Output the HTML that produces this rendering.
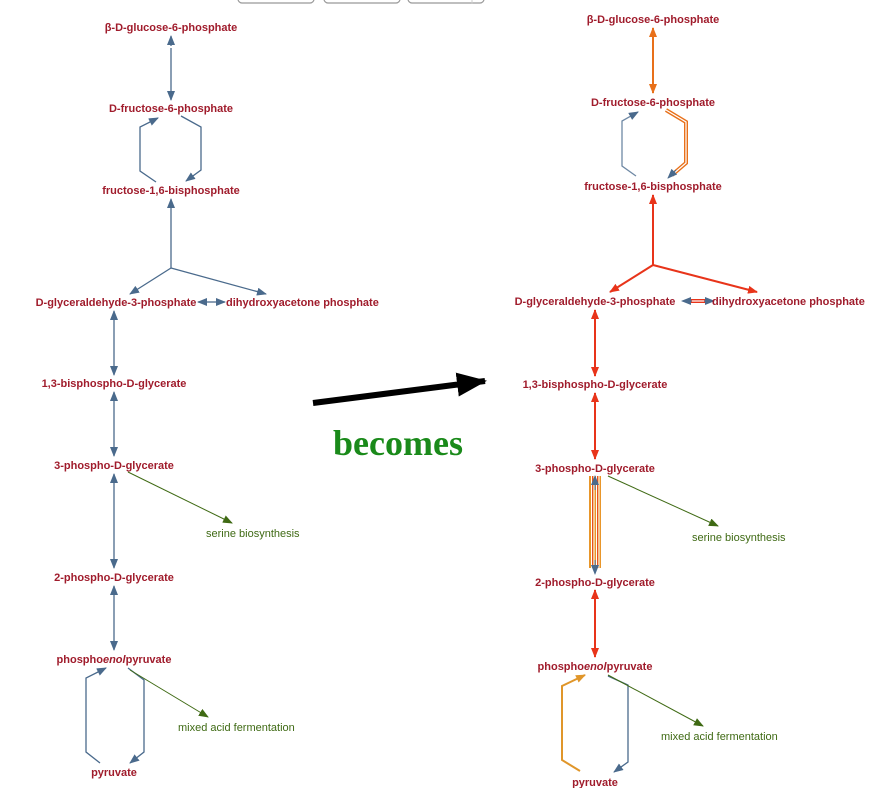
<!DOCTYPE html>
<html><head><meta charset="utf-8"><style>
html,body{margin:0;padding:0;background:#fff;}
svg{display:block;}
.m{font-family:"Liberation Sans",sans-serif;font-weight:bold;font-size:11px;fill:#a01c2c;}
.g{font-family:"Liberation Sans",sans-serif;font-size:11px;fill:#3f6a14;}
</style></head><body>
<svg width="880" height="788" viewBox="0 0 880 788" xmlns="http://www.w3.org/2000/svg">
<defs>
<marker id="ab" markerWidth="10" markerHeight="8" refX="9" refY="4" orient="auto" markerUnits="userSpaceOnUse"><path d="M0,0 L10,4 L0,8 z" fill="#4a6a8c"/></marker>
<marker id="ar" markerWidth="10" markerHeight="8" refX="9" refY="4" orient="auto" markerUnits="userSpaceOnUse"><path d="M0,0 L10,4 L0,8 z" fill="#e8341a"/></marker>
<marker id="ao" markerWidth="10" markerHeight="8" refX="9" refY="4" orient="auto" markerUnits="userSpaceOnUse"><path d="M0,0 L10,4 L0,8 z" fill="#e8701a"/></marker>
<marker id="ay" markerWidth="10" markerHeight="8" refX="9" refY="4" orient="auto" markerUnits="userSpaceOnUse"><path d="M0,0 L10,4 L0,8 z" fill="#e0962a"/></marker>
<marker id="ag" markerWidth="10" markerHeight="8" refX="9" refY="4" orient="auto" markerUnits="userSpaceOnUse"><path d="M0,0 L10,4 L0,8 z" fill="#3f6a14"/></marker>
<marker id="ak" markerWidth="30" markerHeight="24" refX="28" refY="12" orient="auto" markerUnits="userSpaceOnUse"><path d="M0,0 L30,12 L0,24 z" fill="#000"/></marker>
</defs>
<!-- top buttons -->
<g fill="none" stroke="#999" stroke-width="1.2">
<rect x="238" y="-10" width="76" height="13" rx="4"/>
<rect x="324" y="-10" width="76" height="13" rx="4"/>
<rect x="408" y="-10" width="76" height="13" rx="4"/>
</g>
<line x1="472" y1="0" x2="472" y2="4" stroke="#ccc"/>

<!-- LEFT lines -->
<g stroke="#4a6a8c" stroke-width="1.3" fill="none">
<line x1="171" y1="46" x2="171" y2="36" marker-end="url(#ab)"/>
<line x1="171" y1="60" x2="171" y2="100" marker-end="url(#ab)"/>
<line x1="171" y1="48" x2="171" y2="60"/>
<polyline points="156,182 140,171 140,127 158,118" marker-end="url(#ab)"/>
<polyline points="181,116 201,127 201,170 186,181" marker-end="url(#ab)"/>
<line x1="171" y1="268" x2="171" y2="199" marker-end="url(#ab)"/>
<line x1="171" y1="268" x2="130" y2="294" marker-end="url(#ab)"/>
<line x1="171" y1="268" x2="266" y2="294" marker-end="url(#ab)"/>
<line x1="210" y1="302" x2="198" y2="302" marker-end="url(#ab)"/>
<line x1="210" y1="302" x2="225" y2="302" marker-end="url(#ab)"/>
<line x1="114" y1="340" x2="114" y2="311" marker-end="url(#ab)"/>
<line x1="114" y1="340" x2="114" y2="375" marker-end="url(#ab)"/>
<line x1="114" y1="420" x2="114" y2="392" marker-end="url(#ab)"/>
<line x1="114" y1="420" x2="114" y2="456" marker-end="url(#ab)"/>
<line x1="114" y1="520" x2="114" y2="474" marker-end="url(#ab)"/>
<line x1="114" y1="520" x2="114" y2="568" marker-end="url(#ab)"/>
<line x1="114" y1="615" x2="114" y2="586" marker-end="url(#ab)"/>
<line x1="114" y1="615" x2="114" y2="650" marker-end="url(#ab)"/>
<polyline points="100,763 86,752 86,678 106,668" marker-end="url(#ab)"/>
<polyline points="128,668 144,680 144,752 130,763" marker-end="url(#ab)"/>
</g>
<g stroke="#3f6a14" stroke-width="1">
<line x1="128" y1="472" x2="232" y2="523" marker-end="url(#ag)"/>
<line x1="130" y1="670" x2="208" y2="717" marker-end="url(#ag)"/>
</g>
<!-- LEFT labels -->
<g class="m" text-anchor="middle">
<text x="171" y="31">β-D-glucose-6-phosphate</text>
<text x="171" y="112">D-fructose-6-phosphate</text>
<text x="171" y="194">fructose-1,6-bisphosphate</text>
<text x="116" y="306">D-glyceraldehyde-3-phosphate</text>
<text x="114" y="387">1,3-bisphospho-D-glycerate</text>
<text x="114" y="469">3-phospho-D-glycerate</text>
<text x="114" y="581">2-phospho-D-glycerate</text>
<text x="114" y="663">phospho<tspan font-style="italic">enol</tspan>pyruvate</text>
<text x="114" y="776">pyruvate</text>
</g>
<text class="m" x="226" y="306">dihydroxyacetone phosphate</text>
<text class="g" x="206" y="537">serine biosynthesis</text>
<text class="g" x="178" y="731">mixed acid fermentation</text>

<!-- center arrow -->
<line x1="313" y1="403" x2="485" y2="381" stroke="#000" stroke-width="6" marker-end="url(#ak)"/>
<text x="398" y="455" text-anchor="middle" font-family="Liberation Serif,serif" font-weight="bold" font-size="36" fill="#1a8a1a">becomes</text>

<!-- RIGHT lines -->
<g fill="none" stroke-width="2">
<line x1="653" y1="60" x2="653" y2="28" stroke="#e8701a" marker-end="url(#ao)"/>
<line x1="653" y1="60" x2="653" y2="93" stroke="#e8701a" marker-end="url(#ao)"/>
<polyline points="636,176 622,166 622,121 638,112" stroke="#6e88a4" stroke-width="1.3" marker-end="url(#ab)"/>
<polyline points="666,110 686,122 686,163 672,175" stroke="#e8701a" stroke-width="4"/>
<polyline points="666,110 686,122 686,163 672,175" stroke="#fff" stroke-width="1.2"/>
<line x1="676" y1="170" x2="668" y2="178" stroke="#4a6a8c" stroke-width="1" marker-end="url(#ab)"/>
<line x1="653" y1="265" x2="653" y2="195" stroke="#e8341a" marker-end="url(#ar)"/>
<line x1="653" y1="265" x2="610" y2="292" stroke="#e8341a" marker-end="url(#ar)"/>
<line x1="653" y1="265" x2="757" y2="292" stroke="#e8341a" marker-end="url(#ar)"/>
<line x1="690" y1="301" x2="706" y2="301" stroke="#e8341a" stroke-width="4"/>
<line x1="690" y1="301" x2="706" y2="301" stroke="#fff" stroke-width="1.2"/>
<line x1="692" y1="301" x2="682" y2="301" stroke="#4a6a8c" stroke-width="1" marker-end="url(#ab)"/>
<line x1="704" y1="301" x2="714" y2="301" stroke="#4a6a8c" stroke-width="1" marker-end="url(#ab)"/>
<line x1="595" y1="340" x2="595" y2="310" stroke="#e8341a" marker-end="url(#ar)"/>
<line x1="595" y1="340" x2="595" y2="376" stroke="#e8341a" marker-end="url(#ar)"/>
<line x1="595" y1="425" x2="595" y2="393" stroke="#e8341a" marker-end="url(#ar)"/>
<line x1="595" y1="425" x2="595" y2="459" stroke="#e8341a" marker-end="url(#ar)"/>
<rect x="589" y="476" width="12" height="92" fill="#e8962a" stroke="none"/>
<g stroke="#fff" stroke-width="1"><line x1="591.5" y1="476" x2="591.5" y2="568"/><line x1="594" y1="476" x2="594" y2="568"/><line x1="596.5" y1="476" x2="596.5" y2="568"/><line x1="599" y1="476" x2="599" y2="568"/></g>
<g stroke="#e8341a" stroke-width="0.8"><line x1="592.7" y1="476" x2="592.7" y2="568"/><line x1="597.7" y1="476" x2="597.7" y2="568"/></g>
<line x1="595" y1="490" x2="595" y2="476" stroke="#4a6a8c" stroke-width="1" marker-end="url(#ab)"/>
<line x1="595" y1="560" x2="595" y2="574" stroke="#4a6a8c" stroke-width="1" marker-end="url(#ab)"/>
<line x1="595" y1="625" x2="595" y2="590" stroke="#e8341a" marker-end="url(#ar)"/>
<line x1="595" y1="625" x2="595" y2="657" stroke="#e8341a" marker-end="url(#ar)"/>
<polyline points="580,771 562,760 562,686 585,675" stroke="#e0962a" marker-end="url(#ay)"/>
<polyline points="608,676 628,685 628,762 614,772" stroke="#4a6a8c" stroke-width="1.3" marker-end="url(#ab)"/>
</g>
<g stroke="#3f6a14" stroke-width="1">
<line x1="608" y1="476" x2="718" y2="526" marker-end="url(#ag)"/>
<line x1="608" y1="675" x2="703" y2="726" marker-end="url(#ag)"/>
</g>
<!-- RIGHT labels -->
<g class="m" text-anchor="middle">
<text x="653" y="23">β-D-glucose-6-phosphate</text>
<text x="653" y="106">D-fructose-6-phosphate</text>
<text x="653" y="190">fructose-1,6-bisphosphate</text>
<text x="595" y="305">D-glyceraldehyde-3-phosphate</text>
<text x="595" y="388">1,3-bisphospho-D-glycerate</text>
<text x="595" y="472">3-phospho-D-glycerate</text>
<text x="595" y="586">2-phospho-D-glycerate</text>
<text x="595" y="670">phospho<tspan font-style="italic">enol</tspan>pyruvate</text>
<text x="595" y="786">pyruvate</text>
</g>
<text class="m" x="712" y="305">dihydroxyacetone phosphate</text>
<text class="g" x="692" y="541">serine biosynthesis</text>
<text class="g" x="661" y="740">mixed acid fermentation</text>
</svg>
</body></html>
